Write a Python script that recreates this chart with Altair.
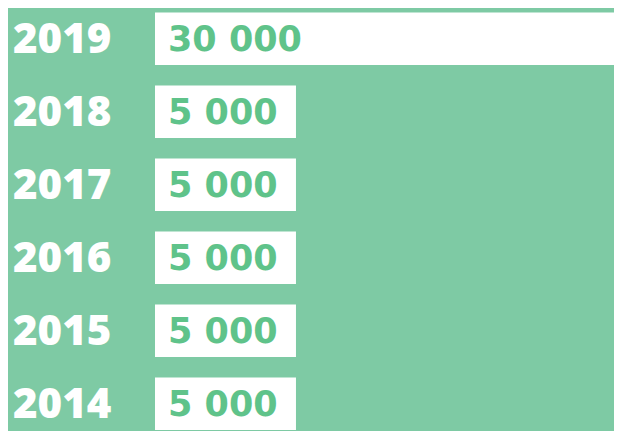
import altair as alt
import pandas as pd

years = ["2019", "2018", "2017", "2016", "2015", "2014"]
values = [30000, 5000, 5000, 5000, 5000, 5000]

BG = "#7ECAA4"
TXT = "#5FC38A"

df = pd.DataFrame({
    "year": years,
    "value": values,
    "label": [f"{v:,}".replace(",", " ") for v in values],
})

y = alt.Y("year:N", sort=years, axis=None,
          scale=alt.Scale(range=[4.5, 422], paddingInner=0.28, paddingOuter=0))
x = alt.X("value:Q", axis=None,
          scale=alt.Scale(domain=[0, 16280], nice=False, zero=True))

bars = alt.Chart(df).mark_bar(color="white", clip=True, cornerRadius=0).encode(x=x, y=y)

vals = alt.Chart(df).mark_text(
    align="left", baseline="middle", font="DejaVu Sans", fontSize=35,
    fontWeight="bold", color=TXT, clip=True, dy=1
).encode(x=alt.value(13), y=y, text="label:N")

yrs = alt.Chart(df).mark_text(
    align="left", baseline="middle", font="Open Sans", fontSize=42,
    fontWeight=800, color="white", dy=1
).encode(x=alt.value(-142), y=y, text="year:N")

chart = (bars + vals + yrs).properties(
    width=459, height=423,
    autosize=alt.AutoSizeParams(type="none"),
    padding={"left": 147, "top": 0, "right": 0, "bottom": 0},
    background=BG,
).configure_view(stroke=None)

chart.save("out.html", embed_options={"renderer": "svg", "actions": False})
